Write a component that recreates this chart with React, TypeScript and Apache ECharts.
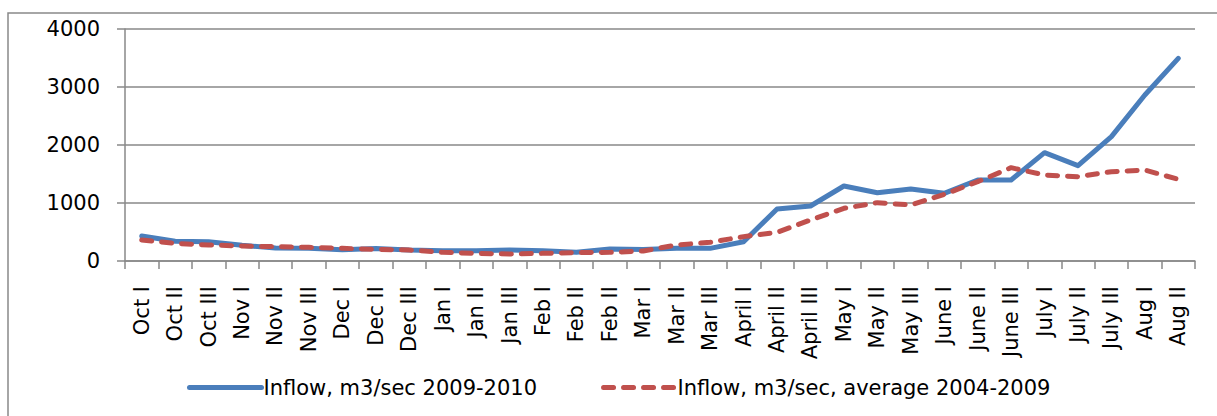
import React, { useEffect, useRef } from "react";
import * as echarts from "echarts";

const categories = [
  "Oct I", "Oct II", "Oct III", "Nov I", "Nov II", "Nov III",
  "Dec I", "Dec II", "Dec III", "Jan I", "Jan II", "Jan III",
  "Feb I", "Feb II", "Feb II", "Mar I", "Mar II", "Mar III",
  "April I", "April II", "April III", "May I", "May II", "May III",
  "June I", "June II", "June III", "July I", "July II", "July III",
  "Aug I", "Aug II",
];

const inflow2009 = [
  430, 340, 330, 270, 225, 220, 195, 215, 190, 178, 178, 190,
  178, 150, 207, 200, 218, 218, 333, 897, 948, 1293, 1178, 1241,
  1167, 1397, 1397, 1868, 1644, 2144, 2862, 3494,
];

const inflowAvg = [
  362, 305, 276, 259, 247, 236, 218, 201, 190, 149, 132, 121,
  132, 144, 149, 172, 276, 322, 420, 494, 707, 908, 1006, 966,
  1149, 1368, 1609, 1483, 1454, 1540, 1569, 1408,
];

const seriesNames = [
  "Inflow, m3/sec 2009-2010",
  "Inflow, m3/sec, average 2004-2009",
];

const yTicks = { min: 0, max: 4000, interval: 1000 };

const FONT = "DejaVu Sans";
const GRAY = "#898989";

export default function App() {
  const ref = useRef<HTMLDivElement>(null);
  useEffect(() => {
    if (!ref.current) return;
    const chart = echarts.init(ref.current, null, { renderer: "svg" });
    chart.setOption({
      animation: false,
      backgroundColor: "#ffffff",
      textStyle: { fontFamily: FONT },
      graphic: [
        {
          type: "rect",
          shape: { x: 8, y: 13, width: 1300, height: 500 },
          style: { fill: "none", stroke: GRAY, lineWidth: 1.5 },
          silent: true,
        },
      ],
      grid: { left: 125, right: 22, top: 29, bottom: 155, containLabel: false },
      legend: {
        left: 182,
        top: 372,
        itemWidth: 72,
        itemHeight: 22,
        itemGap: 64,
        itemStyle: { opacity: 0 },
        lineStyle: { width: 5 },
        textStyle: { fontFamily: FONT, fontSize: 21, color: "#000", padding: [0, 0, 0, -3] },
        data: seriesNames,
      },
      xAxis: {
        type: "category",
        data: categories,
        boundaryGap: true,
        axisLine: { show: true, lineStyle: { color: GRAY, width: 1.5 } },
        axisTick: { show: true, length: 8, interval: 0, lineStyle: { color: GRAY, width: 1.5 } },
        axisLabel: {
          interval: 0,
          rotate: 90,
          margin: 25,
          fontFamily: FONT,
          fontSize: 21,
          color: "#000",
        },
        splitLine: { show: false },
      },
      yAxis: {
        type: "value",
        min: yTicks.min,
        max: yTicks.max,
        interval: yTicks.interval,
        axisLine: { show: true, lineStyle: { color: GRAY, width: 1.5 } },
        axisTick: { show: true, length: 8, lineStyle: { color: GRAY, width: 1.5 } },
        axisLabel: {
          margin: 25,
          fontFamily: FONT,
          fontSize: 21,
          color: "#000",
          formatter: (v: number) => String(v),
        },
        splitLine: { show: true, lineStyle: { color: GRAY, width: 1.5 } },
      },
      series: [
        {
          name: seriesNames[0],
          type: "line",
          data: inflow2009,
          symbol: "none",
          showSymbol: false,
          itemStyle: { color: "#4A7EBB" },
          lineStyle: { color: "#4A7EBB", width: 5, cap: "round", join: "round" },
        },
        {
          name: seriesNames[1],
          type: "line",
          data: inflowAvg,
          symbol: "none",
          showSymbol: false,
          itemStyle: { color: "#C0504D" },
          lineStyle: {
            color: "#C0504D",
            width: 5,
            type: [10, 10],
            cap: "round",
            join: "round",
          },
        },
      ],
    });
    return () => chart.dispose();
  }, []);
  return (
    <div
      ref={ref}
      style={{ position: "absolute", left: 0, top: 0, width: 1217, height: 416 }}
    />
  );
}
